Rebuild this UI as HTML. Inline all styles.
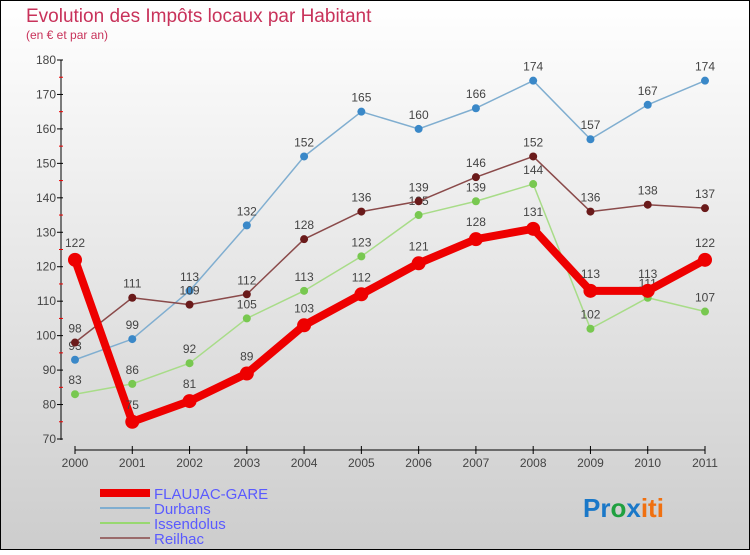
<!DOCTYPE html>
<html><head><meta charset="utf-8"><style>
html,body{margin:0;padding:0}
body{width:750px;height:550px;overflow:hidden;font-family:"Liberation Sans",sans-serif}
</style></head><body>
<svg id="chart" width="750" height="550" xmlns="http://www.w3.org/2000/svg">
<defs><linearGradient id="bg" x1="0" y1="0" x2="0" y2="1"><stop offset="0" stop-color="#ffffff"/><stop offset="1" stop-color="#cdcdcd"/></linearGradient></defs>
<rect x="0.5" y="0.5" width="749" height="549" fill="url(#bg)" stroke="#000"/>
<text x="26" y="22" font-size="19" fill="#c8325a">Evolution des Impôts locaux par Habitant</text>
<text x="26" y="39" font-size="12" fill="#c8325a">(en € et par an)</text>
<g id="axes"></g>
<g id="series"></g>
<g>
<line x1="100" y1="493" x2="150" y2="493" stroke="#e00" stroke-width="8"/>
<text x="154" y="499" font-size="15" fill="#5a5aff">FLAUJAC-GARE</text>
<line x1="100" y1="508" x2="150" y2="508" stroke="#80aed0" stroke-width="2"/>
<text x="154" y="514" font-size="15" fill="#5a5aff">Durbans</text>
<line x1="100" y1="523" x2="150" y2="523" stroke="#98d870" stroke-width="2"/>
<text x="154" y="529" font-size="15" fill="#5a5aff">Issendolus</text>
<line x1="100" y1="538" x2="150" y2="538" stroke="#9a6a6a" stroke-width="2"/>
<text x="154" y="544" font-size="15" fill="#5a5aff">Reilhac</text>
</g>
<text x="583" y="517" font-size="26" font-weight="bold"><tspan fill="#1a78c8">Pr</tspan><tspan fill="#20a040">o</tspan><tspan fill="#1a78c8">x</tspan><tspan fill="#f07010">iti</tspan></text>
</svg>
<script>
const years=["2000","2001","2002","2003","2004","2005","2006","2007","2008","2009","2010","2011"];
const yTicks=[70,80,90,100,110,120,130,140,150,160,170,180];
const flaujac=[122,75,81,89,103,112,121,128,131,113,113,122];
const durbans=[93,99,113,132,152,165,160,166,174,157,167,174];
const issendolus=[83,86,92,105,113,123,135,139,144,102,111,107];
const reilhac=[98,111,109,112,128,136,139,146,152,136,138,137];
const NS="http://www.w3.org/2000/svg";
const X0=75,X1=705,Y0=439,Y1=60;
function xs(i){return X0+(X1-X0)*i/(years.length-1);}
function ys(v){return Y0-(v-70)*(Y0-Y1)/110;}
function mk(tag,attrs,parent){const e=document.createElementNS(NS,tag);for(const k in attrs)e.setAttribute(k,attrs[k]);parent.appendChild(e);return e;}
const ax=document.getElementById('axes');
let a=mk('line',{x1:61,y1:Y1,x2:61,y2:Y0+1,stroke:'#000'},ax);


yTicks.forEach((v,i)=>{
  mk('line',{x1:57,y1:ys(v),x2:63,y2:ys(v),stroke:'#000'},ax);
  if(i<yTicks.length-1)mk('line',{x1:59,y1:ys(v+5),x2:63,y2:ys(v+5),stroke:'#e00'},ax);
  const t=mk('text',{x:56,y:ys(v)+4,'font-size':12,fill:'#444','text-anchor':'end'},ax);
  t.textContent=v;
  
  
});
a=mk('line',{x1:X0,y1:450,x2:X1,y2:450,stroke:'#000'},ax);


years.forEach((y,i)=>{
  mk('line',{x1:xs(i),y1:446,x2:xs(i),y2:454,stroke:'#000'},ax);
  const t=mk('text',{x:xs(i),y:467,'font-size':12,fill:'#444','text-anchor':'middle'},ax);
  t.textContent=y;
  
  
});
const sg=document.getElementById('series');
function draw(name,data,color,dot,w,r){
  const g=mk('g',{},sg);
  
  
  const ln=mk('polyline',{points:data.map((v,i)=>xs(i)+','+ys(v)).join(' '),fill:'none',stroke:color,'stroke-width':w,'stroke-linejoin':'round'},g);
  
  
  data.forEach((v,i)=>{
    const c=mk('circle',{cx:xs(i),cy:ys(v),r:r,fill:dot},g);
    
    
    const t=mk('text',{x:xs(i),y:ys(v)-(r+6),'font-size':12,fill:'#444','text-anchor':'middle'},g);
    t.textContent=v;
    
    
  });
}
draw('durbans',durbans,'#80aed0','#3a88c8',1.5,4);
draw('issendolus',issendolus,'#a8dc88','#78c850',1.5,4);
draw('reilhac',reilhac,'#8a4a4a','#6a1a1a',1.5,4);
draw('flaujac-gare',flaujac,'#ee0000','#ee0000',8,7);
</script>
</body></html>
